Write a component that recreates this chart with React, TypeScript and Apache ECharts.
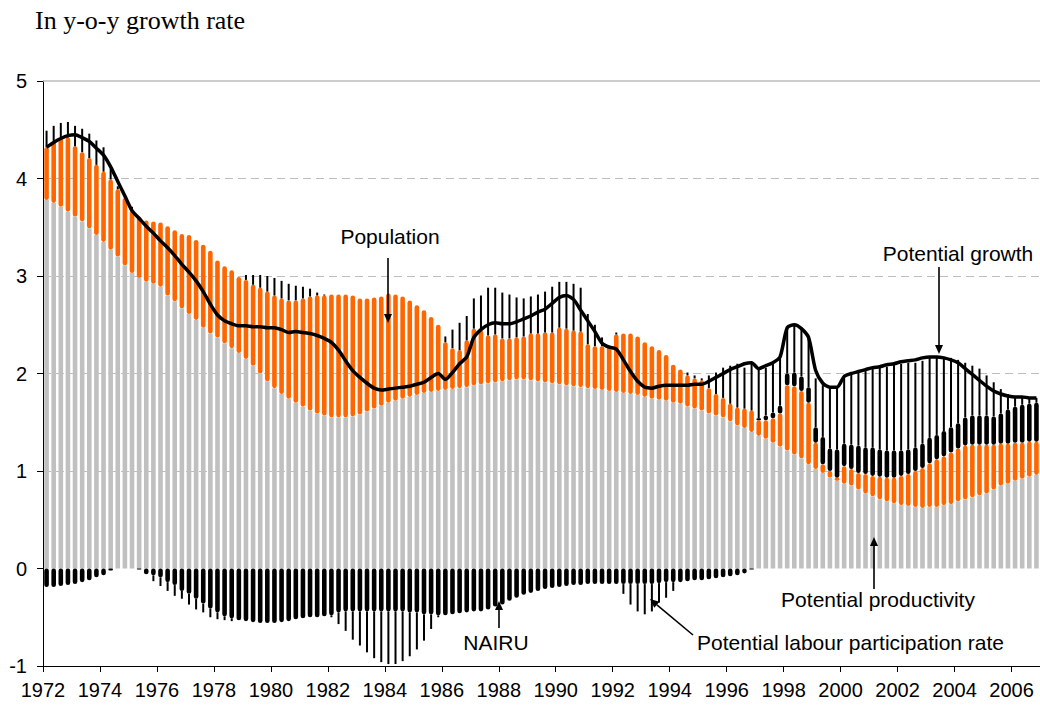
import React, { useEffect, useRef } from "react";
import * as echarts from "echarts";

// Quarterly data, 1972Q1 .. 2006Q4 (140 quarters), y-o-y growth rates in %
const START_YEAR = 1972;
const END_YEAR = 2006;

const productivity = [
  3.78, 3.75, 3.71, 3.66, 3.61, 3.56, 3.49, 3.42, 3.35, 3.27,
  3.20, 3.11, 3.03, 2.98, 2.94, 2.92, 2.89, 2.80, 2.74, 2.67,
  2.61, 2.55, 2.47, 2.41, 2.37, 2.31, 2.26, 2.21, 2.15, 2.08,
  2.00, 1.92, 1.85, 1.79, 1.74, 1.70, 1.66, 1.62, 1.59, 1.57,
  1.55, 1.55, 1.55, 1.56, 1.58, 1.61, 1.64, 1.67, 1.70, 1.72,
  1.74, 1.76, 1.78, 1.80, 1.81, 1.82, 1.83, 1.84, 1.85, 1.86,
  1.88, 1.89, 1.90, 1.91, 1.92, 1.93, 1.94, 1.94, 1.93, 1.92,
  1.91, 1.90, 1.89, 1.88, 1.87, 1.86, 1.85, 1.84, 1.83, 1.82,
  1.81, 1.80, 1.79, 1.78, 1.76, 1.74, 1.73, 1.72, 1.70, 1.69,
  1.66, 1.64, 1.62, 1.59, 1.57, 1.55, 1.51, 1.47, 1.44, 1.40,
  1.36, 1.33, 1.29, 1.25, 1.21, 1.17, 1.13, 1.07, 1.02, 0.98,
  0.93, 0.90, 0.87, 0.85, 0.81, 0.77, 0.74, 0.71, 0.69, 0.67,
  0.65, 0.64, 0.63, 0.62, 0.63, 0.63, 0.65, 0.66, 0.69, 0.71,
  0.73, 0.75, 0.77, 0.81, 0.85, 0.87, 0.90, 0.92, 0.94, 0.96,
];

const population = [
  0.54, 0.63, 0.71, 0.76, 0.72, 0.71, 0.72, 0.72, 0.72, 0.72,
  0.69, 0.69, 0.65, 0.63, 0.63, 0.64, 0.66, 0.71, 0.73, 0.76,
  0.81, 0.82, 0.85, 0.85, 0.79, 0.79, 0.80, 0.78, 0.81, 0.83,
  0.88, 0.92, 0.95, 0.98, 1.01, 1.05, 1.11, 1.17, 1.21, 1.23,
  1.26, 1.26, 1.26, 1.24, 1.19, 1.16, 1.14, 1.12, 1.12, 1.09,
  1.05, 0.99, 0.92, 0.85, 0.77, 0.68, 0.49, 0.42, 0.39, 0.48,
  0.58, 0.55, 0.49, 0.49, 0.44, 0.43, 0.43, 0.44, 0.48, 0.49,
  0.51, 0.52, 0.58, 0.58, 0.57, 0.57, 0.45, 0.44, 0.45, 0.47,
  0.59, 0.61, 0.62, 0.60, 0.56, 0.54, 0.51, 0.47, 0.39, 0.35,
  0.32, 0.31, 0.31, 0.26, 0.22, 0.20, 0.18, 0.18, 0.20, 0.22,
  0.16, 0.19, 0.25, 0.34, 0.67, 0.70, 0.69, 0.63, 0.27, 0.09,
  0.07, 0.03, 0.18, 0.17, 0.17, 0.20, 0.21, 0.23, 0.24, 0.26,
  0.30, 0.33, 0.37, 0.41, 0.45, 0.49, 0.50, 0.53, 0.54, 0.55,
  0.54, 0.52, 0.50, 0.46, 0.43, 0.41, 0.39, 0.37, 0.36, 0.34,
];

const nairu = [
  -0.19, -0.19, -0.18, -0.17, -0.16, -0.14, -0.12, -0.09, -0.07, -0.02,
  0, 0, 0, -0.01, -0.06, -0.07, -0.09, -0.14, -0.17, -0.23,
  -0.26, -0.31, -0.36, -0.41, -0.45, -0.49, -0.51, -0.53, -0.54, -0.55,
  -0.56, -0.56, -0.56, -0.55, -0.54, -0.52, -0.51, -0.50, -0.50, -0.49,
  -0.48, -0.45, -0.44, -0.44, -0.44, -0.44, -0.44, -0.44, -0.44, -0.44,
  -0.44, -0.45, -0.45, -0.47, -0.47, -0.48, -0.48, -0.47, -0.46, -0.45,
  -0.44, -0.44, -0.42, -0.39, -0.37, -0.33, -0.30, -0.27, -0.25, -0.23,
  -0.21, -0.20, -0.19, -0.18, -0.17, -0.17, -0.16, -0.16, -0.16, -0.16,
  -0.16, -0.16, -0.16, -0.16, -0.16, -0.16, -0.15, -0.14, -0.14, -0.14,
  -0.13, -0.12, -0.12, -0.11, -0.10, -0.09, -0.08, -0.07, -0.05, -0.01,
  0.02, 0.05, 0.06, 0.08, 0.12, 0.14, 0.15, 0.16, 0.16, 0.28,
  0.23, 0.29, 0.23, 0.25, 0.28, 0.27, 0.29, 0.28, 0.28, 0.28,
  0.26, 0.25, 0.24, 0.25, 0.26, 0.25, 0.26, 0.26, 0.26, 0.29,
  0.30, 0.30, 0.30, 0.29, 0.31, 0.35, 0.37, 0.39, 0.39, 0.40,
];

const participation = [
  0.17, 0.16, 0.15, 0.16, 0.21, 0.24, 0.25, 0.25, 0.25, 0.11,
  0.03, 0.03, 0.03, 0, 0, -0.06, -0.09, -0.09, -0.11, -0.08,
  -0.11, -0.11, -0.09, -0.09, -0.07, -0.04, -0.03, 0, 0.05, 0.10,
  0.13, 0.16, 0.18, 0.18, 0.17, 0.15, 0.12, 0.08, 0.03, 0.01,
  -0.02, -0.12, -0.20, -0.29, -0.35, -0.42, -0.48, -0.52, -0.54, -0.54,
  -0.51, -0.45, -0.38, -0.27, -0.15, -0.02, 0.06, 0.19, 0.28, 0.25,
  0.31, 0.36, 0.49, 0.48, 0.47, 0.45, 0.41, 0.39, 0.38, 0.40,
  0.42, 0.47, 0.47, 0.48, 0.48, 0.45, 0.31, 0.22, 0.09, 0,
  0.02, -0.10, -0.21, -0.28, -0.31, -0.28, -0.20, -0.16, -0.09, 0,
  0.03, 0.03, 0.02, 0.13, 0.22, 0.31, 0.39, 0.45, 0.42, 0.48,
  0.51, 0.49, 0.51, 0.50, 0.47, 0.50, 0.49, 0.51, 0.50, 0.53,
  0.63, 0.64, 0.68, 0.72, 0.75, 0.79, 0.81, 0.84, 0.86, 0.88,
  0.89, 0.89, 0.87, 0.85, 0.82, 0.80, 0.76, 0.71, 0.65, 0.56,
  0.51, 0.48, 0.41, 0.35, 0.25, 0.16, 0.11, 0.08, 0.06, 0.05,
];

const potentialGrowth = [
  4.32, 4.37, 4.41, 4.44, 4.45, 4.42, 4.38, 4.31, 4.24, 4.12,
  3.97, 3.82, 3.67, 3.59, 3.51, 3.44, 3.36, 3.29, 3.21, 3.12,
  3.04, 2.95, 2.84, 2.71, 2.60, 2.54, 2.51, 2.49, 2.49, 2.48,
  2.48, 2.47, 2.47, 2.45, 2.42, 2.43, 2.42, 2.41, 2.39, 2.36,
  2.32, 2.24, 2.13, 2.03, 1.96, 1.90, 1.85, 1.83, 1.84, 1.85,
  1.86, 1.87, 1.89, 1.91, 1.96, 2.00, 1.94, 2.01, 2.10, 2.17,
  2.37, 2.45, 2.50, 2.52, 2.51, 2.51, 2.53, 2.56, 2.59, 2.63,
  2.66, 2.72, 2.78, 2.80, 2.76, 2.65, 2.54, 2.43, 2.31, 2.27,
  2.25, 2.14, 2.02, 1.92, 1.86, 1.85, 1.87, 1.88, 1.88, 1.88,
  1.88, 1.89, 1.89, 1.92, 1.96, 2.00, 2.04, 2.07, 2.10, 2.11,
  2.05, 2.08, 2.11, 2.17, 2.47, 2.50, 2.46, 2.37, 2.03, 1.90,
  1.86, 1.86, 1.97, 2.00, 2.02, 2.04, 2.06, 2.07, 2.09, 2.10,
  2.12, 2.13, 2.14, 2.16, 2.17, 2.17, 2.16, 2.14, 2.11, 2.05,
  1.99, 1.93, 1.87, 1.82, 1.79, 1.77, 1.76, 1.76, 1.75, 1.75,
];

const TITLE = "In y-o-y growth rate";
const SANS = "'Liberation Sans', Arial, Helvetica, sans-serif";
const SERIF = "'Liberation Serif', 'Times New Roman', serif";

function arrow(x1: number, y1: number, x2: number, y2: number) {
  const ang = Math.atan2(y2 - y1, x2 - x1);
  const len = 9;
  const half = 4;
  const bx = x2 - len * Math.cos(ang);
  const by = y2 - len * Math.sin(ang);
  const px = -Math.sin(ang) * half;
  const py = Math.cos(ang) * half;
  return [
    {
      type: "line",
      shape: { x1, y1, x2: bx, y2: by },
      style: { stroke: "#000", lineWidth: 1.6 },
      z: 100,
    },
    {
      type: "polygon",
      shape: { points: [[x2, y2], [bx + px, by + py], [bx - px, by - py]] },
      style: { fill: "#000" },
      z: 100,
    },
  ];
}

function label(text: string, x: number, y: number, align: string = "center") {
  return {
    type: "text",
    x,
    y,
    z: 100,
    style: {
      text,
      fill: "#000",
      fontSize: 21,
      fontFamily: SANS,
      align,
      verticalAlign: "middle",
    },
  };
}

export default function App() {
  const ref = useRef<HTMLDivElement>(null);

  useEffect(() => {
    if (!ref.current) return;
    const chart = echarts.init(ref.current, null, { renderer: "svg" });

    const quarters = productivity.map(
      (_, i) => `${START_YEAR + Math.floor(i / 4)}Q${(i % 4) + 1}`
    );
    const partData = productivity.map((_, i) => {
      const r = participation[i];
      const base =
        r >= 0
          ? productivity[i] + population[i] + Math.max(nairu[i], 0)
          : Math.min(nairu[i], 0);
      return [i, base, base + r];
    });

    const option: any = {
      animation: false,
      backgroundColor: "#fff",
      grid: { left: 43, top: 81, width: 1001, height: 585, containLabel: false },
      xAxis: [
        {
          type: "category",
          data: quarters,
          boundaryGap: true,
          show: false,
        },
        {
          type: "value",
          min: START_YEAR,
          max: END_YEAR + 1,
          interval: 2,
          position: "bottom",
          axisLine: { onZero: false, lineStyle: { color: "#000", width: 1 } },
          axisTick: { show: true, inside: false, length: 6, lineStyle: { color: "#000" } },
          axisLabel: {
            color: "#000",
            fontSize: 20,
            fontFamily: SANS,
            margin: 14,
            showMaxLabel: false,
            formatter: (v: number) => String(v),
          },
          splitLine: { show: false },
        },
      ],
      yAxis: {
        type: "value",
        min: -1,
        max: 5,
        interval: 1,
        axisLine: { show: true, lineStyle: { color: "#000", width: 1 } },
        axisTick: { show: true, inside: false, length: 6, lineStyle: { color: "#000" } },
        axisLabel: { color: "#000", fontSize: 20, fontFamily: SANS, margin: 16 },
        splitLine: {
          show: true,
          lineStyle: {
            color: ["transparent", "transparent", "#bdbdbd", "#bdbdbd", "#bdbdbd", "#bdbdbd", "transparent"],
            type: [8, 5],
            width: 1,
          },
        },
      },
      graphic: [
        {
          type: "text",
          x: 35,
          y: 20,
          style: {
            text: TITLE,
            fill: "#000",
            fontSize: 26,
            fontFamily: SERIF,
            align: "left",
            verticalAlign: "middle",
          },
        },
        label("Population", 390, 236),
        ...arrow(388, 258, 388, 323),
        label("Potential growth", 958, 253),
        ...arrow(939, 267, 939, 354),
        label("Potential productivity", 878, 599),
        ...arrow(874, 589, 874, 537),
        label("NAIRU", 496, 642),
        ...arrow(499, 628, 499, 601),
        label("Potential labour participation rate", 697, 642, "left"),
        ...arrow(693, 635, 650, 599),
      ],
      series: [
        {
          name: "Potential productivity",
          type: "bar",
          stack: "total",
          xAxisIndex: 0,
          barWidth: 4.6,
          itemStyle: { color: "#c0c0c0" },
          data: productivity,
          z: 2,
        },
        {
          name: "Population",
          type: "bar",
          stack: "total",
          xAxisIndex: 0,
          barWidth: 4.6,
          itemStyle: { color: "#ff6600", borderRadius: 2.3 },
          data: population,
          z: 2,
        },
        {
          name: "NAIRU",
          type: "bar",
          stack: "total",
          xAxisIndex: 0,
          barWidth: 4.6,
          itemStyle: { color: "#000", borderRadius: 2.3 },
          data: nairu,
          z: 2,
        },
        {
          name: "Potential labour participation rate",
          type: "custom",
          xAxisIndex: 0,
          encode: { x: 0, y: [1, 2] },
          data: partData,
          z: 3,
          renderItem: (params: any, api: any) => {
            const x = api.value(0);
            const p0 = api.coord([x, api.value(1)]);
            const p1 = api.coord([x, api.value(2)]);
            return {
              type: "line",
              shape: { x1: p0[0], y1: p0[1], x2: p1[0], y2: p1[1] },
              style: { stroke: "#000", lineWidth: 2 },
            };
          },
        },
        {
          name: "Potential growth",
          type: "line",
          xAxisIndex: 0,
          data: potentialGrowth,
          smooth: 0.25,
          symbol: "none",
          lineStyle: { color: "#000", width: 3.5 },
          z: 5,
          markLine: {
            silent: true,
            symbol: "none",
            label: { show: false },
            lineStyle: { color: "#bdbdbd", type: "solid", width: 1.5 },
            data: [{ yAxis: 5 }],
          },
        },
      ],
    };

    chart.setOption(option);
    return () => chart.dispose();
  }, []);

  return (
    <div
      ref={ref}
      style={{ position: "fixed", left: 0, top: 0, width: 1040, height: 709, background: "#fff" }}
    />
  );
}
